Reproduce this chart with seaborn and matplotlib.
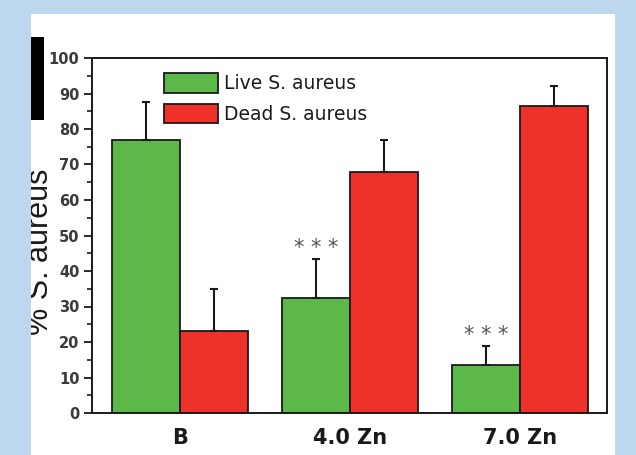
import matplotlib
matplotlib.use("Agg")
import matplotlib.pyplot as plt
import seaborn as sns
import pandas as pd
from matplotlib.patches import Rectangle
from matplotlib.ticker import MultipleLocator

groups = ["B", "4.0 Zn", "7.0 Zn"]
series = ["Live S. aureus", "Dead S. aureus"]
live = [77, 32.5, 13.5]
dead = [23, 68, 86.5]
live_err = [10.5, 11, 5.5]
dead_err = [12, 9, 5.5]
stars = ["", "* * *", "* * *"]

df = pd.DataFrame({
    "group": groups * 2,
    "series": [series[0]] * 3 + [series[1]] * 3,
    "value": live + dead,
})
errs = live_err + dead_err

sns.set_style("ticks")
plt.rcParams['font.family'] = ['DejaVu Sans']

W, H = 636, 455
BLUE = "#bdd7ee"
fig = plt.figure(figsize=(W / 100, H / 100), dpi=100)
fig.patch.set_facecolor(BLUE)
fig.patches.append(Rectangle((31 / W, 0), (615 - 31) / W, (455 - 14) / H,
                             transform=fig.transFigure, facecolor="white",
                             edgecolor="none", zorder=-2))
fig.patches.append(Rectangle((31 / W, (455 - 120) / H), 13 / W, 83 / H,
                             transform=fig.transFigure, facecolor="black",
                             edgecolor="none", zorder=-1))

ax = fig.add_axes([92 / W, (455 - 413) / H, (607 - 92) / W, (413 - 58) / H])
palette = {series[0]: "#5cb848", series[1]: "#ee3229"}
sns.barplot(data=df, x="group", y="value", hue="series", order=groups,
            hue_order=series, palette=palette, width=0.8, saturation=1,
            edgecolor="#1a1a1a", linewidth=1.3, errorbar=None, ax=ax)

# upper error bars and significance marks
bars = ax.patches[:6]
for bar, e in zip(bars, errs):
    cx = bar.get_x() + bar.get_width() / 2
    h = bar.get_height()
    ax.errorbar(cx, h, yerr=[[0], [e]], fmt="none", ecolor="#1a1a1a",
                elinewidth=1.5, capsize=3, capthick=1.5, zorder=3)
for bar, s, e in zip(bars[:3], stars, live_err):
    if s:
        cx = bar.get_x() + bar.get_width() / 2
        ax.text(cx, bar.get_height() + e + 0.1, s, ha="center", va="bottom",
                fontsize=15, color="#555555")

ax.set_xlim(-0.52, 2.51)
ax.set_ylim(0, 100)
ax.yaxis.set_major_locator(MultipleLocator(10))
ax.yaxis.set_minor_locator(MultipleLocator(5))
ax.tick_params(axis="y", which="major", length=6, width=1.3, labelsize=10.5,
               colors="#1a1a1a", labelcolor="#3a3a3a", pad=3)
ax.tick_params(axis="y", which="minor", length=3.5, width=1.2, colors="#1a1a1a")
ax.tick_params(axis="x", length=0, labelsize=15, pad=11, labelcolor="#1a1a1a")
for lab in ax.get_yticklabels() + ax.get_xticklabels():
    lab.set_fontweight("bold")
for sp in ax.spines.values():
    sp.set_visible(True)
    sp.set_linewidth(1.4)
    sp.set_color("#1a1a1a")
ax.set_xlabel("")
ax.set_ylabel("")

leg = ax.legend(loc="upper left", bbox_to_anchor=(0.125, 0.978), frameon=False,
                prop={"size": 13.5}, handlelength=2.9, handleheight=1.2,
                handletextpad=0.3, labelspacing=0.58, borderaxespad=0)
for t in leg.get_texts():
    t.set_color("#1a1a1a")

fig.text(40 / W, (455 - 252) / H, "% S. aureus", rotation=90, ha="center",
         va="center", fontsize=22, color="#1a1a1a", family="Liberation Sans")
# blue margin drawn over the clipped part of the label
fig.patches.append(Rectangle((0, 0), 31 / W, 1, transform=fig.transFigure,
                             facecolor=BLUE, edgecolor="none", zorder=5))

fig.savefig("out.png", dpi=100)
